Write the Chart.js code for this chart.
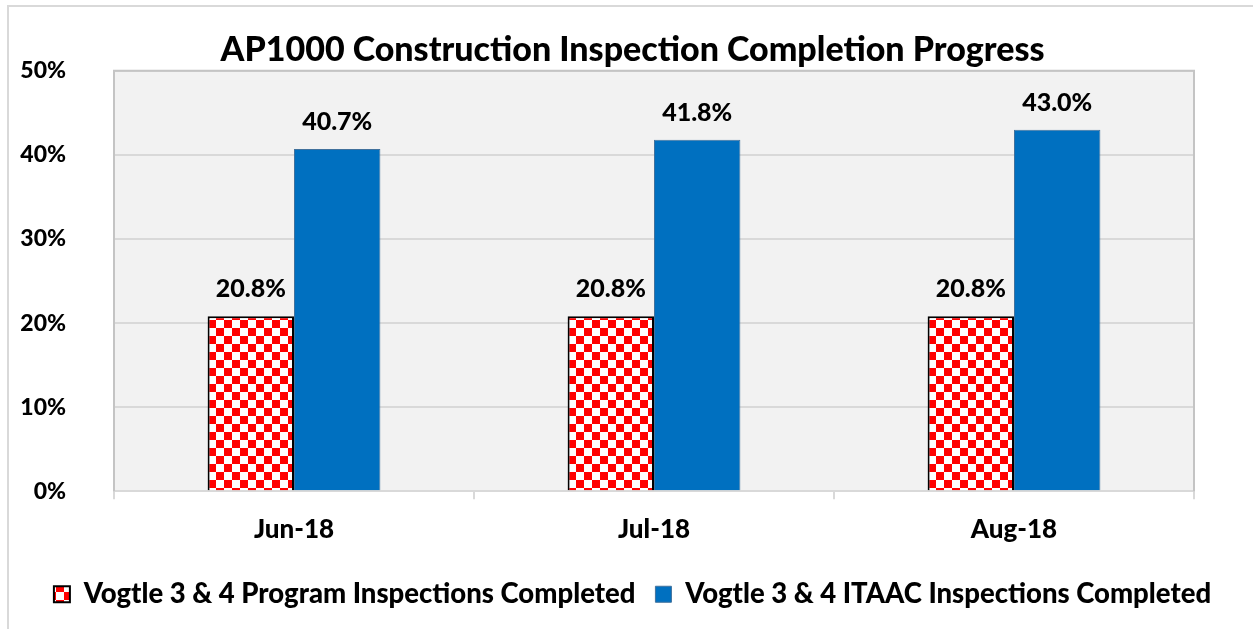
<!DOCTYPE html>
<html>
<head>
<meta charset="utf-8">
<script src="https://cdn.jsdelivr.net/npm/chart.js@4"></script>
<style>
  html, body { margin: 0; padding: 0; background: #fff; }
  #wrap { width: 1253px; height: 629px; }
</style>
</head>
<body>
<div id="wrap"><canvas id="inspChart" width="1253" height="629"></canvas></div>
<script>
// data
const months = ['Jun-18', 'Jul-18', 'Aug-18'];
const programDone = [20.8, 20.8, 20.8];
const itaacDone = [40.7, 41.8, 43.0];
const seriesNames = ['Vogtle 3 & 4 Program Inspections Completed', 'Vogtle 3 & 4 ITAAC Inspections Completed'];
const yTicks = [0, 10, 20, 30, 40, 50];

const FONT = "Lato, Carlito, 'Liberation Sans', sans-serif";
const W = '900';

// red / white checker used for the program bars
function makeChecker() {
    const c = document.createElement('canvas');
    c.width = 16; c.height = 16;
    const g = c.getContext('2d');
    g.fillStyle = '#ffffff';
    g.fillRect(0, 0, 16, 16);
    g.fillStyle = '#ff0000';
    g.fillRect(0, 0, 8, 8);
    g.fillRect(8, 8, 8, 8);
    return g.createPattern(c, 'repeat');
}

// frame, plot background and plot border
const framePlugin = {
    id: 'frame',
    beforeDraw(chart) {
        const ctx = chart.ctx;
        const a = chart.chartArea;
        ctx.save();
        ctx.fillStyle = '#ffffff';
        ctx.fillRect(0, 0, chart.width, chart.height);
        ctx.strokeStyle = '#d9d9d9';
        ctx.lineWidth = 2;
        ctx.beginPath();
        ctx.moveTo(8, chart.height);
        ctx.lineTo(8, 6);
        ctx.lineTo(chart.width, 6);
        ctx.stroke();
        ctx.fillStyle = '#f2f2f2';
        ctx.fillRect(a.left, a.top, a.right - a.left, a.bottom - a.top);
        ctx.restore();
    },
    afterDraw(chart) {
        const ctx = chart.ctx;
        const a = chart.chartArea;
        ctx.save();
        ctx.strokeStyle = '#c4c4c4';
        ctx.lineWidth = 2;
        ctx.beginPath();
        ctx.moveTo(a.left, a.bottom);
        ctx.lineTo(a.left, a.top);
        ctx.lineTo(a.right, a.top);
        ctx.lineTo(a.right, a.bottom);
        ctx.stroke();
        ctx.restore();
    }
};

// value labels above each bar
const valueLabels = {
    id: 'valueLabels',
    afterDatasetsDraw(chart) {
        const ctx = chart.ctx;
        ctx.save();
        ctx.font = W + ' 25px ' + FONT;
        ctx.fillStyle = '#000000';
        ctx.textAlign = 'center';
        ctx.textBaseline = 'alphabetic';
        chart.data.datasets.forEach((ds, i) => {
            chart.getDatasetMeta(i).data.forEach((bar, j) => {
                ctx.fillText(ds.data[j].toFixed(1) + '%', bar.x, bar.y - 19);
            });
        });
        ctx.restore();
    }
};

Chart.defaults.font.family = FONT;
Chart.defaults.font.weight = W;
Chart.defaults.color = '#000000';

const ctx = document.getElementById('inspChart').getContext('2d');
new Chart(ctx, {
    type: 'bar',
    data: {
        labels: months,
        datasets: [
            {
                label: seriesNames[0],
                data: programDone,
                backgroundColor: makeChecker(),
                borderColor: '#000000',
                borderWidth: 2,
                categoryPercentage: 0.48,
                barPercentage: 1.0
            },
            {
                label: seriesNames[1],
                data: itaacDone,
                backgroundColor: '#0070c0',
                borderColor: '#41719c',
                borderWidth: 1,
                categoryPercentage: 0.48,
                barPercentage: 1.0
            }
        ]
    },
    options: {
        responsive: false,
        animation: false,
        layout: { padding: { left: 12, right: 0, top: 0, bottom: 11 } },
        scales: {
            x: {
                grid: { drawOnChartArea: false, tickLength: 8, color: '#d9d9d9', lineWidth: 2 },
                border: { color: '#d9d9d9', width: 2 },
                ticks: { font: { size: 26, weight: W }, padding: 15 }
            },
            y: {
                min: yTicks[0],
                max: yTicks[yTicks.length - 1],
                afterBuildTicks: (axis) => { axis.ticks = yTicks.map(v => ({ value: v })); },
                afterFit: (axis) => { axis.width = 102; },
                grid: { color: '#d9d9d9', lineWidth: 2, drawTicks: false },
                border: { display: false },
                ticks: {
                    font: { size: 23, weight: W },
                    padding: 48,
                    callback: (v) => v + '%'
                }
            },
            // empty right-hand margin so title and legend centre on the page
            yRight: {
                position: 'right',
                afterFit: (axis) => { axis.width = 59; },
                grid: { display: false },
                border: { display: false },
                ticks: { display: false }
            }
        },
        plugins: {
            title: {
                display: true,
                text: 'AP1000 Construction Inspection Completion Progress',
                font: { size: 34, weight: W },
                padding: { top: 30, bottom: 0 }
            },
            legend: {
                position: 'bottom',
                labels: {
                    font: { size: 27.5, weight: W },
                    boxWidth: 16,
                    boxHeight: 16,
                    padding: 20
                }
            },
            tooltip: { enabled: false }
        }
    },
    plugins: [framePlugin, valueLabels]
});
</script>
</body>
</html>
